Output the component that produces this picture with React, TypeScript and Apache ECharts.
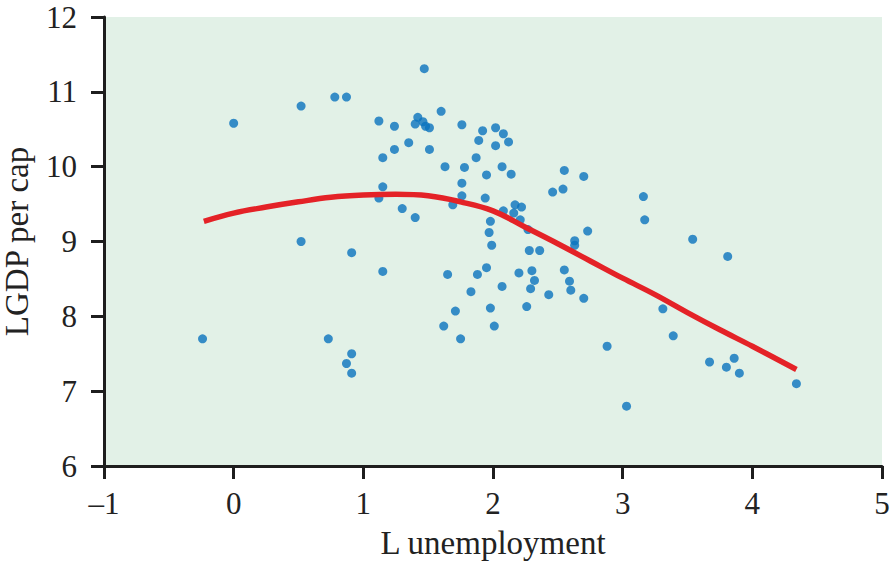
import React, { useEffect, useRef } from "react";
import * as echarts from "echarts";

const scatterX = [
  0.0, 0.52, 0.78, 0.87, 1.12, 1.15, 1.15, 1.12, 0.52, 0.91, 1.15, -0.24, 0.73, 0.91, 0.87, 0.91,
  1.47, 1.24, 1.42, 1.4, 1.46, 1.48, 1.51, 1.6, 1.76, 1.92, 2.02, 2.08, 1.89, 2.02, 2.12, 1.24,
  1.35, 1.51, 1.87, 1.63, 1.78, 2.07, 1.95, 2.14, 2.55, 1.76, 1.76, 1.94, 1.69, 1.3, 1.4, 2.46,
  2.54, 2.17, 2.22, 2.08, 2.16, 2.21, 1.98, 2.27, 1.97, 1.99, 2.63, 2.63, 2.73, 2.28, 2.36, 1.65,
  1.88, 1.95, 2.2, 2.3, 2.32, 2.29, 2.07, 1.83, 2.43, 2.55, 2.59, 2.6, 2.26, 1.98, 1.71, 1.62,
  2.01, 1.75, 2.7, 3.16, 3.17, 3.54, 3.81, 2.7, 3.31, 3.39, 2.88, 3.67, 3.86, 3.8, 3.9, 4.34, 3.03,
];
const scatterY = [
  10.58, 10.81, 10.93, 10.93, 10.61, 10.12, 9.73, 9.58, 9.0, 8.85, 8.6, 7.7, 7.7, 7.5, 7.37, 7.24,
  11.31, 10.54, 10.66, 10.57, 10.6, 10.54, 10.52, 10.74, 10.56, 10.48, 10.52, 10.44, 10.35, 10.28, 10.33, 10.23,
  10.32, 10.23, 10.12, 10.0, 9.99, 10.0, 9.89, 9.9, 9.95, 9.78, 9.61, 9.58, 9.49, 9.44, 9.32, 9.66,
  9.7, 9.49, 9.46, 9.41, 9.38, 9.29, 9.27, 9.16, 9.12, 8.95, 9.01, 8.95, 9.14, 8.88, 8.88, 8.56,
  8.56, 8.65, 8.58, 8.61, 8.48, 8.37, 8.4, 8.33, 8.29, 8.62, 8.47, 8.35, 8.13, 8.11, 8.07, 7.87,
  7.87, 7.7, 9.87, 9.6, 9.29, 9.03, 8.8, 8.24, 8.1, 7.74, 7.6, 7.39, 7.44, 7.32, 7.24, 7.1, 6.8,
];

const fitX = [-0.23, 0, 0.25, 0.5, 0.75, 1.0, 1.25, 1.5, 1.75, 2.0, 2.25, 2.5, 2.75, 3.0, 3.25, 3.5, 3.75, 4.0, 4.34];
const fitY = [9.27, 9.38, 9.46, 9.53, 9.59, 9.62, 9.63, 9.61, 9.53, 9.41, 9.19, 8.97, 8.74, 8.51, 8.29, 8.05, 7.82, 7.6, 7.29];

const xTicks = { min: -1, max: 5, interval: 1 };
const yTicks = { min: 6, max: 12, interval: 1 };

const FONT = "'Liberation Serif', serif";

export default function App() {
  const ref = useRef<HTMLDivElement>(null);
  useEffect(() => {
    if (!ref.current) return;
    const chart = echarts.init(ref.current, null, { renderer: "svg" });
    const axisCommon = {
      axisLine: { show: true, onZero: false, lineStyle: { color: "#1e1e1e", width: 3 } },
      axisTick: { show: true, inside: false, length: 13, lineStyle: { color: "#1e1e1e", width: 3 } },
      splitLine: { show: false },
    };
    chart.setOption({
      animation: false,
      grid: {
        left: 104,
        right: 9,
        top: 17,
        bottom: 97,
        show: true,
        backgroundColor: "#e2f1e7",
        borderWidth: 0,
        containLabel: false,
        outerBoundsMode: "none",
      },
      xAxis: {
        type: "value",
        ...xTicks,
        ...axisCommon,
        name: "L unemployment",
        nameLocation: "middle",
        nameGap: 60,
        nameTextStyle: { fontFamily: FONT, fontSize: 33, color: "#222" },
        axisLabel: {
          margin: 22,
          fontFamily: FONT,
          fontSize: 31,
          color: "#222",
          formatter: (v: number) => String(v).replace("-", "\u2013"),
        },
      },
      yAxis: {
        type: "value",
        ...yTicks,
        ...axisCommon,
        name: "LGDP per cap",
        nameLocation: "middle",
        nameGap: 70,
        nameTextStyle: { fontFamily: FONT, fontSize: 33, lineHeight: 34, color: "#222" },
        axisLabel: {
          margin: 27,
          fontFamily: FONT,
          fontSize: 31,
          color: "#222",
        },
      },
      series: [
        {
          type: "scatter",
          data: scatterX.map((x, i) => [x, scatterY[i]]),
          symbol: "circle",
          symbolSize: 9,
          itemStyle: { color: "#0a73be" },
          z: 2,
        },
        {
          type: "line",
          data: fitX.map((x, i) => [x, fitY[i]]),
          smooth: 0.4,
          showSymbol: false,
          symbol: "none",
          lineStyle: { color: "#e42227", width: 5.5 },
          z: 3,
        },
      ],
    });
    return () => chart.dispose();
  }, []);
  return <div ref={ref} style={{ width: 891, height: 563, position: "absolute", left: 0, top: 0 }} />;
}
